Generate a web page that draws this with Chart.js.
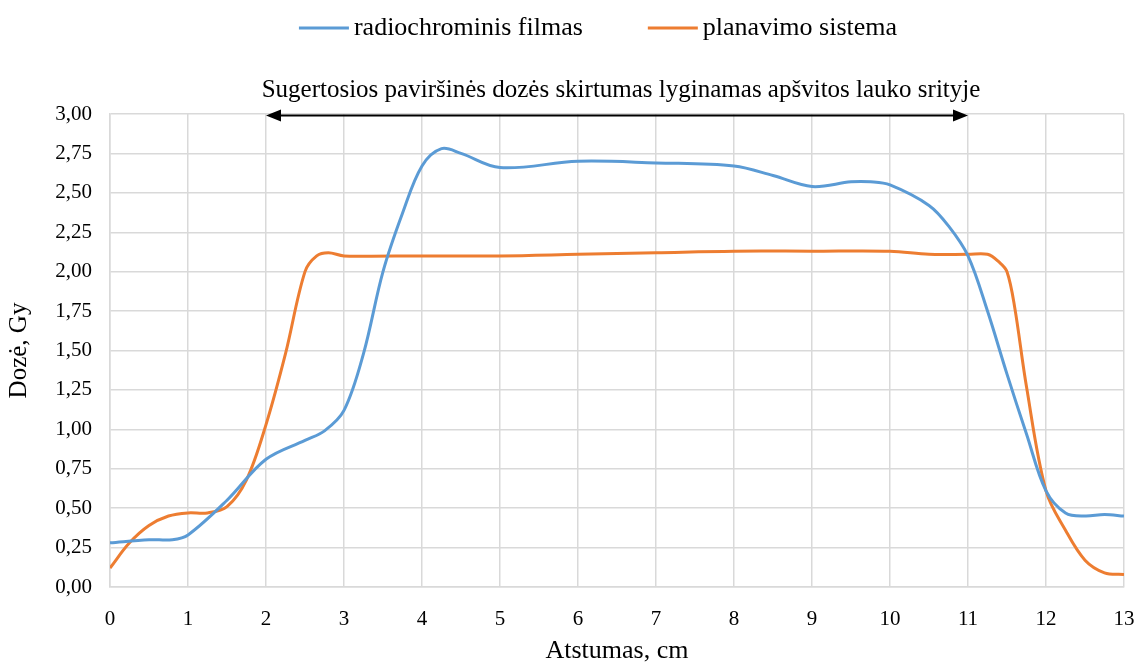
<!DOCTYPE html>
<html>
<head>
<meta charset="utf-8">
<script src="https://cdn.jsdelivr.net/npm/chart.js@4/dist/chart.umd.min.js"></script>
<style>
  html, body { margin: 0; padding: 0; background: #fff; }
  #wrap { width: 1137px; height: 667px; }
</style>
</head>
<body>
<div id="wrap"><canvas id="dose-chart"></canvas></div>
<script>
// distance (cm) and dose (Gy)
const filmX = [0, 0.5, 0.8, 1, 1.5, 2, 2.5, 2.75, 3, 3.25, 3.5, 3.75, 4, 4.25, 4.5, 5, 6, 7, 8, 8.5, 9, 9.5, 9.75, 10, 10.5, 10.75, 11, 11.25, 11.5, 11.75, 12, 12.25, 12.5, 12.75, 13];
const filmY = [0.28, 0.30, 0.30, 0.33, 0.55, 0.81, 0.93, 0.99, 1.12, 1.48, 2.00, 2.37, 2.67, 2.78, 2.75, 2.66, 2.70, 2.69, 2.67, 2.61, 2.54, 2.57, 2.57, 2.55, 2.42, 2.29, 2.10, 1.75, 1.35, 0.97, 0.61, 0.47, 0.45, 0.46, 0.45];

const planX = [0, 0.25, 0.5, 0.75, 1, 1.25, 1.5, 1.75, 2, 2.25, 2.5, 2.65, 2.8, 3, 4, 5, 6, 7, 8, 9, 10, 10.5, 11, 11.25, 11.4, 11.5, 11.6, 11.75, 12, 12.25, 12.5, 12.75, 13];
const planY = [0.12, 0.28, 0.39, 0.45, 0.47, 0.47, 0.51, 0.68, 1.03, 1.48, 2.00, 2.10, 2.12, 2.10, 2.10, 2.10, 2.11, 2.12, 2.13, 2.13, 2.13, 2.11, 2.11, 2.11, 2.06, 2.00, 1.77, 1.27, 0.61, 0.36, 0.17, 0.09, 0.08];

const seriesNames = ['radiochrominis filmas', 'planavimo sistema'];
const noteText = 'Sugertosios paviršinės dozės skirtumas lyginamas apšvitos lauko srityje';
const arrowFrom = 2, arrowTo = 11, arrowY = 2.99;

const toPoints = (xs, ys) => xs.map((x, i) => ({ x: x, y: ys[i] }));
const serif = '"Liberation Serif", "Times New Roman", serif';

// legend row drawn by hand so the spacing can follow the original
const topLegend = {
  id: 'topLegend',
  afterDraw(chart) {
    const ctx = chart.ctx;
    const sets = chart.data.datasets;
    const lineW = 50, textGap = 5, itemGap = 65, midY = 28;
    ctx.save();
    ctx.font = '26px ' + serif;
    const widths = sets.map(d => lineW + textGap + ctx.measureText(d.label).width);
    const total = widths.reduce((a, b) => a + b, 0) + itemGap * (sets.length - 1);
    let x = 598 - total / 2;
    sets.forEach((d, i) => {
      ctx.strokeStyle = d.borderColor;
      ctx.lineWidth = 3;
      ctx.beginPath();
      ctx.moveTo(x, midY);
      ctx.lineTo(x + lineW, midY);
      ctx.stroke();
      ctx.fillStyle = '#000';
      ctx.textBaseline = 'middle';
      ctx.fillText(d.label, x + lineW + textGap, midY);
      x += widths[i] + itemGap;
    });
    ctx.restore();
  }
};

// double arrow + caption over the irradiated field
const arrowNote = {
  id: 'arrowNote',
  afterDatasetsDraw(chart) {
    const { ctx, scales: { x, y } } = chart;
    const x1 = x.getPixelForValue(arrowFrom);
    const x2 = x.getPixelForValue(arrowTo);
    const yy = y.getPixelForValue(arrowY);
    const head = 15, half = 6;
    ctx.save();
    ctx.strokeStyle = '#000';
    ctx.fillStyle = '#000';
    ctx.lineWidth = 2;
    ctx.beginPath();
    ctx.moveTo(x1 + head - 2, yy);
    ctx.lineTo(x2 - head + 2, yy);
    ctx.stroke();
    ctx.beginPath();
    ctx.moveTo(x1, yy);
    ctx.lineTo(x1 + head, yy - half);
    ctx.lineTo(x1 + head, yy + half);
    ctx.closePath();
    ctx.fill();
    ctx.beginPath();
    ctx.moveTo(x2, yy);
    ctx.lineTo(x2 - head, yy - half);
    ctx.lineTo(x2 - head, yy + half);
    ctx.closePath();
    ctx.fill();
    ctx.font = '25px ' + serif;
    ctx.textAlign = 'center';
    ctx.textBaseline = 'alphabetic';
    ctx.fillText(noteText, (x1 + x2) / 2 + 4, yy - 19);
    ctx.restore();
  }
};

new Chart(document.getElementById('dose-chart'), {
  type: 'line',
  data: {
    datasets: [
      {
        label: seriesNames[0],
        data: toPoints(filmX, filmY),
        borderColor: '#5B9BD5',
        backgroundColor: '#5B9BD5',
        borderWidth: 3,
        pointRadius: 0,
        tension: 0.35
      },
      {
        label: seriesNames[1],
        data: toPoints(planX, planY),
        borderColor: '#ED7D31',
        backgroundColor: '#ED7D31',
        borderWidth: 3,
        pointRadius: 0,
        tension: 0.35
      }
    ]
  },
  options: {
    responsive: true,
    maintainAspectRatio: false,
    animation: false,
    layout: { padding: { top: 114, right: 13, left: 0, bottom: 0 } },
    plugins: {
      legend: { display: false },
      tooltip: { enabled: false }
    },
    scales: {
      x: {
        type: 'linear',
        min: 0,
        max: 13,
        ticks: { stepSize: 1, color: '#000', padding: 20, font: { family: serif, size: 21 } },
        grid: { color: '#d9d9d9', lineWidth: 1.5, drawTicks: false },
        border: { color: '#d9d9d9', width: 1.5 },
        title: { display: true, text: 'Atstumas, cm', color: '#000', font: { family: serif, size: 26 }, padding: { top: 8, bottom: 0 } },
        afterFit(axis) { axis.height = 80; axis.paddingRight = 0; }
      },
      y: {
        min: 0,
        max: 3,
        ticks: {
          stepSize: 0.25,
          color: '#000',
          padding: 18,
          font: { family: serif, size: 21 },
          callback: v => v.toFixed(2).replace('.', ',')
        },
        grid: { color: '#d9d9d9', lineWidth: 1.5, drawTicks: false },
        border: { color: '#d9d9d9', width: 1.5 },
        title: { display: true, text: 'Dozė, Gy', color: '#000', font: { family: serif, size: 25 }, padding: { bottom: 0 } },
        afterFit(axis) { axis.width = 110; }
      }
    }
  },
  plugins: [topLegend, arrowNote]
});
</script>
</body>
</html>
